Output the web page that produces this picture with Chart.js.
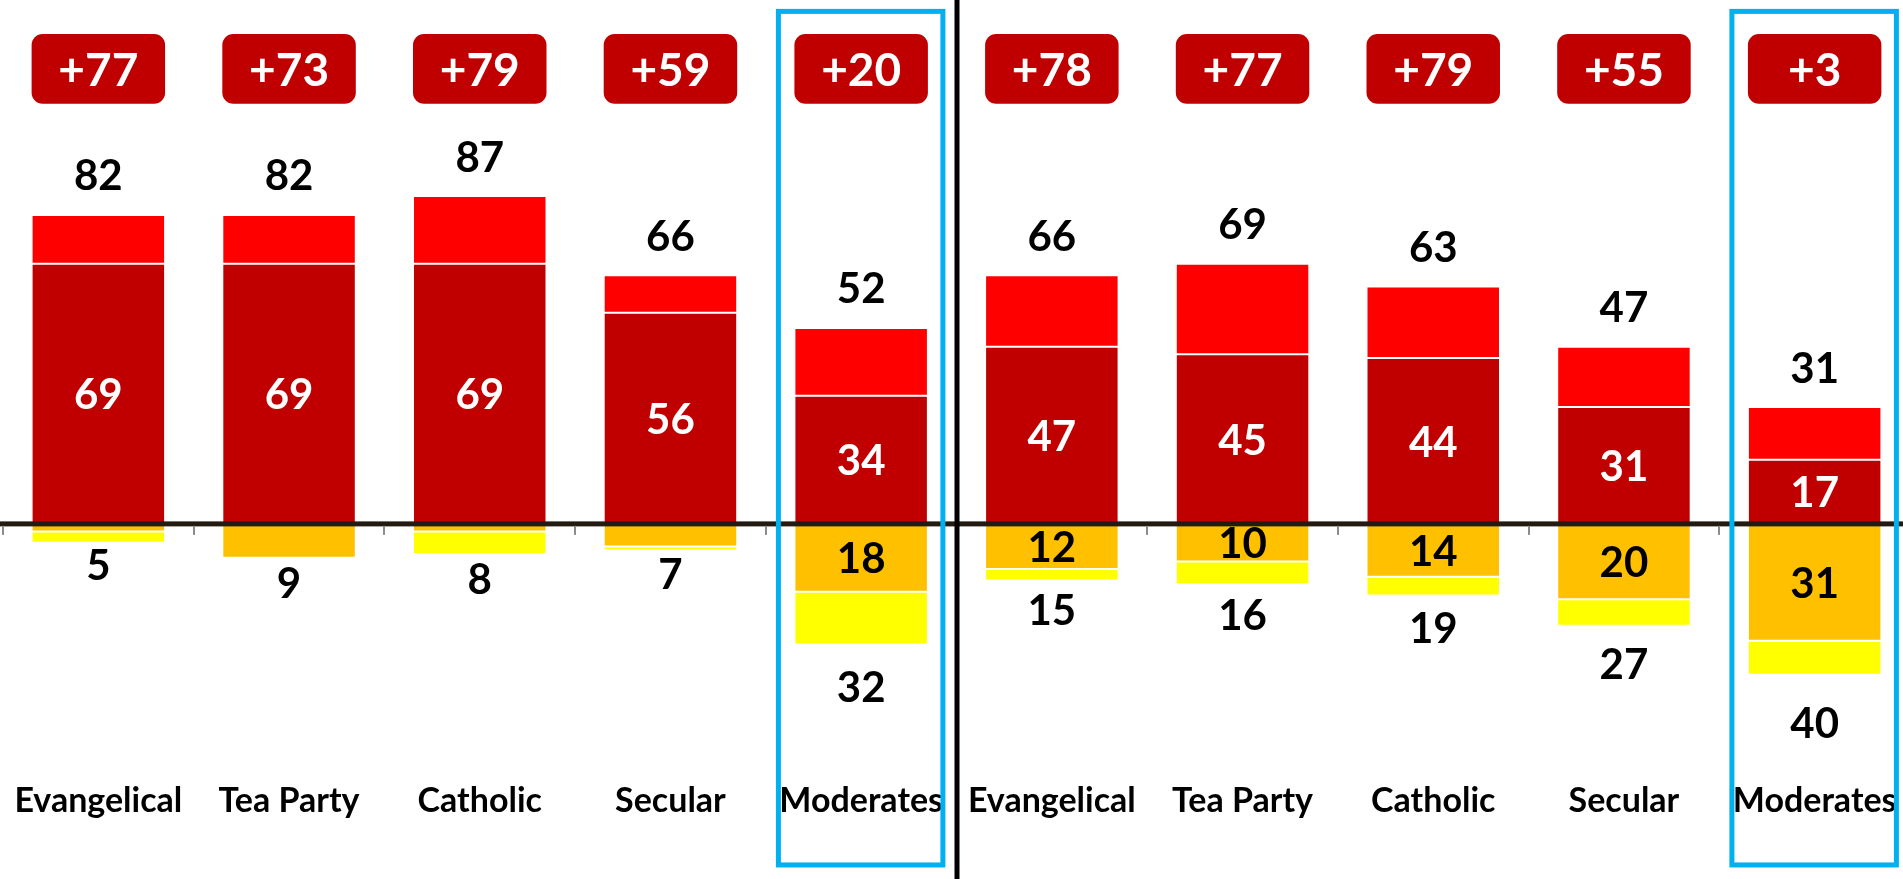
<!DOCTYPE html>
<html lang="en">
    <head>
        <meta charset="UTF-8" />
        <title>Favorability by group</title>
        <script src="https://cdn.jsdelivr.net/npm/chart.js"></script>
        <style>
            html,
            body {
                margin: 0;
                padding: 0;
                background: #fff;
                overflow: hidden;
            }
            .chart-container {
                position: relative;
                width: 1910px;
                height: 879px;
            }
        </style>
    </head>
    <body>
        <div class="chart-container">
            <canvas id="groupChart"></canvas>
        </div>

        <script>
            const categories = [
                "Evangelical", "Tea Party", "Catholic", "Secular", "Moderates",
                "Evangelical", "Tea Party", "Catholic", "Secular", "Moderates",
            ];
            const strongFavor = [69, 69, 69, 56, 34, 47, 45, 44, 31, 17];
            const somewhatFavor = [13, 13, 18, 10, 18, 19, 24, 19, 16, 14];
            const strongOppose = [2, 9, 2, 6, 18, 12, 10, 14, 20, 31];
            const somewhatOppose = [3, 0, 6, 1, 14, 3, 6, 5, 7, 9];
            const totalFavor = [82, 82, 87, 66, 52, 66, 69, 63, 47, 31];
            const totalOppose = [5, 9, 8, 7, 32, 15, 16, 19, 27, 40];
            const netScores = [77, 73, 79, 59, 20, 78, 77, 79, 55, 3];
            const highlighted = [4, 9];

            const FONT = "Lato, 'Open Sans', sans-serif";

            const overlay = {
                id: "overlay",
                afterDatasetsDraw(chart) {
                    const { ctx, scales } = chart;
                    const x = scales.x;
                    const y = scales.y;
                    const zero = y.getPixelForValue(0);
                    ctx.save();
                    ctx.textAlign = "center";
                    ctx.textBaseline = "middle";

                    // numbers inside the segments
                    ctx.font = `bold 42px ${FONT}`;
                    chart.getDatasetMeta(0).data.forEach((bar, i) => {
                        ctx.fillStyle = "#fff";
                        ctx.fillText(strongFavor[i], bar.x, (bar.y + bar.base) / 2 + 2);
                    });
                    chart.getDatasetMeta(2).data.forEach((bar, i) => {
                        if (strongOppose[i] < 10) return;
                        ctx.fillStyle = "#000";
                        ctx.fillText(strongOppose[i], bar.x, (bar.y + bar.base) / 2 + 2);
                    });

                    // totals above and below
                    ctx.fillStyle = "#000";
                    categories.forEach((c, i) => {
                        const cx = x.getPixelForValue(i);
                        ctx.fillText(totalFavor[i], cx, y.getPixelForValue(totalFavor[i]) - 38);
                        ctx.fillText(
                            totalOppose[i],
                            cx,
                            y.getPixelForValue(-totalOppose[i]) + 20 + 0.75 * totalOppose[i]
                        );
                    });

                    // category names
                    ctx.font = `bold 34px ${FONT}`;
                    categories.forEach((c, i) => {
                        ctx.fillText(c, x.getPixelForValue(i), y.getPixelForValue(-73.5));
                    });

                    // zero line and small ticks
                    ctx.fillStyle = "#231a12";
                    ctx.fillRect(0, zero - 2.5, chart.width, 5);
                    ctx.fillStyle = "#8c8c8c";
                    for (let i = 0; i <= categories.length; i++) {
                        const tx = Math.round(x.getPixelForValue(i - 0.5));
                        ctx.fillRect(Math.max(tx - 1, 1), zero + 2, 2, 9);
                    }

                    // divider between the two halves
                    ctx.fillStyle = "#000";
                    ctx.fillRect(x.getPixelForValue(4.5) - 2, 0, 5, chart.height);

                    // highlight boxes
                    ctx.strokeStyle = "#00b0f0";
                    ctx.lineWidth = 5;
                    const barMeta = chart.getDatasetMeta(0).data;
                    highlighted.forEach((i) => {
                        const bar = barMeta[i];
                        const left = bar.x - bar.width / 2 - 16;
                        const right = bar.x + bar.width / 2 + 15;
                        const top = y.getPixelForValue(136);
                        const bottom = y.getPixelForValue(-90.5);
                        ctx.strokeRect(left, top, right - left, bottom - top);
                    });

                    // net score boxes
                    barMeta.forEach((bar, i) => {
                        const top = y.getPixelForValue(130);
                        const bottom = y.getPixelForValue(111.5);
                        ctx.fillStyle = "#c00000";
                        ctx.beginPath();
                        ctx.roundRect(bar.x - bar.width / 2, top, bar.width, bottom - top, 11);
                        ctx.fill();
                        ctx.fillStyle = "#fff";
                        ctx.font = `bold 46px ${FONT}`;
                        ctx.fillText("+" + netScores[i], bar.x, (top + bottom) / 2 + 2);
                    });
                    ctx.restore();
                },
            };

            const barStyle = {
                borderColor: "#fff",
                borderWidth: 1,
                borderSkipped: false,
                barPercentage: 0.7,
                categoryPercentage: 1,
            };

            new Chart(document.getElementById("groupChart"), {
                type: "bar",
                data: {
                    labels: categories,
                    datasets: [
                        { label: "Strongly favor", data: strongFavor, backgroundColor: "#c00000", ...barStyle },
                        { label: "Somewhat favor", data: somewhatFavor, backgroundColor: "#ff0000", ...barStyle },
                        { label: "Strongly oppose", data: strongOppose.map((v) => -v), backgroundColor: "#ffc000", ...barStyle },
                        { label: "Somewhat oppose", data: somewhatOppose.map((v) => -v), backgroundColor: "#ffff00", ...barStyle },
                    ],
                },
                options: {
                    responsive: true,
                    maintainAspectRatio: false,
                    animation: false,
                    layout: { padding: { top: 34, bottom: 129, left: 3, right: 0 } },
                    plugins: {
                        legend: { display: false },
                        tooltip: { enabled: false },
                    },
                    scales: {
                        x: {
                            stacked: true,
                            display: false,
                        },
                        y: {
                            stacked: true,
                            display: false,
                            min: -60,
                            max: 130,
                        },
                    },
                },
                plugins: [overlay],
            });
        </script>
    </body>
</html>
